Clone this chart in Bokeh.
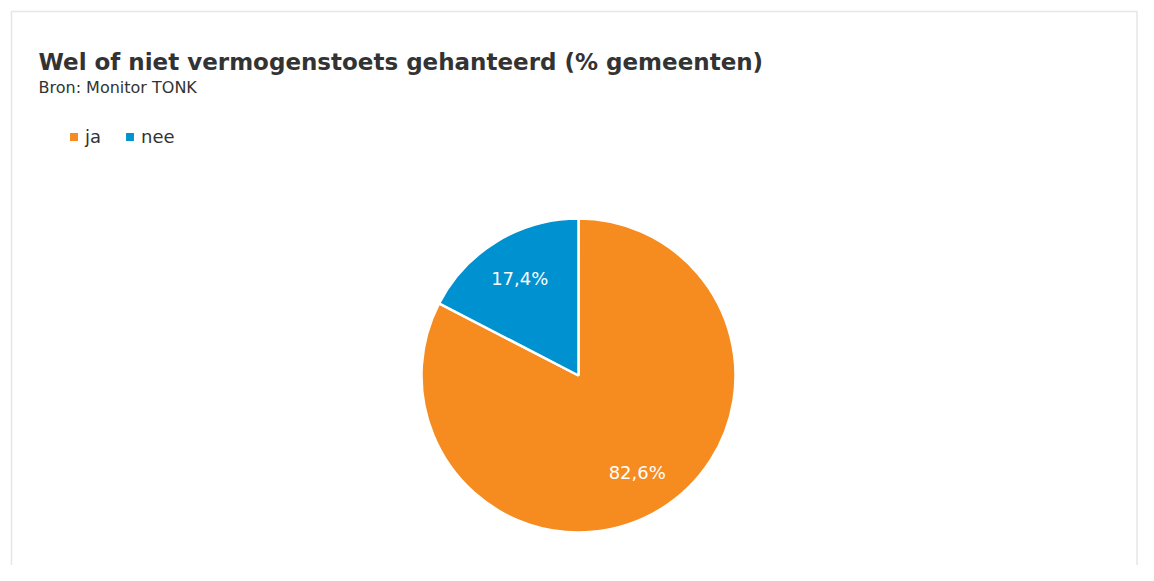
import math
from bokeh.plotting import figure
from bokeh.models import ColumnDataSource, Label, Legend, LegendItem, Range1d
from bokeh.core.properties import value
from bokeh.embed import file_html
from bokeh.resources import INLINE

# data
categories = ["ja", "nee"]
values = [82.6, 17.4]
colors = ["#F68B1F", "#0091D0"]
labels = ["82,6%", "17,4%"]

W, H = 1138, 565
p = figure(width=W, height=H, output_backend="svg", toolbar_location=None,
           x_range=Range1d(0, W), y_range=Range1d(0, H), min_border=0)
p.axis.visible = False
p.grid.visible = False
p.outline_line_color = None
p.background_fill_color = "white"
p.border_fill_color = "white"

# chart container border
p.line([11, 11, 1136.5, 1136.5], [-20, H - 11, H - 11, -20], line_color="#e6e6e6", line_width=1.5)

cx, cy, r = 578, H - 375, 157
total = sum(values)
starts, ends, mids = [], [], []
a = math.pi / 2
for v in values:
    sweep = v / total * 2 * math.pi
    starts.append(a)
    ends.append(a - sweep)
    mids.append(a - sweep / 2)
    a -= sweep

src = ColumnDataSource(dict(cat=categories, val=values, color=colors,
                            start=starts, end=ends,
                            lx=[cx + 0.72 * r * math.cos(m) for m in mids],
                            ly=[cy + 0.72 * r * math.sin(m) for m in mids],
                            lab=labels))
wedges = p.wedge(x=cx, y=cy, radius=r, start_angle="start", end_angle="end",
                 direction="clock", fill_color="color", line_color="white",
                 line_width=2.5, source=src)

p.text(x="lx", y="ly", text="lab", source=src, text_color="white",
       text_font=value("DejaVu Sans"), text_font_size="18px",
       text_align="center", text_baseline="middle")

# legend
items = [LegendItem(label=c, renderers=[wedges], index=i) for i, c in enumerate(categories)]
legend = Legend(items=items, orientation="horizontal", location=(67, 418),
                glyph_width=13, glyph_height=13, label_standoff=5, spacing=18,
                padding=0, margin=0, border_line_color=None,
                background_fill_alpha=0, label_text_font="DejaVu Sans",
                label_text_font_size="18px", label_text_color="#333333",
                label_height=18)
p.add_layout(legend, "center")

p.add_layout(Label(x=38, y=H - 61, text="Wel of niet vermogenstoets gehanteerd (% gemeenten)",
                   text_font="DejaVu Sans", text_font_size="23px", text_font_style="bold",
                   text_color="#333333", text_baseline="alphabetic"))
p.add_layout(Label(x=38, y=H - 87, text="Bron: Monitor TONK",
                   text_font="DejaVu Sans", text_font_size="16px",
                   text_color="#333333", text_baseline="alphabetic"))

open("out.html", "w").write(file_html(p, INLINE))
